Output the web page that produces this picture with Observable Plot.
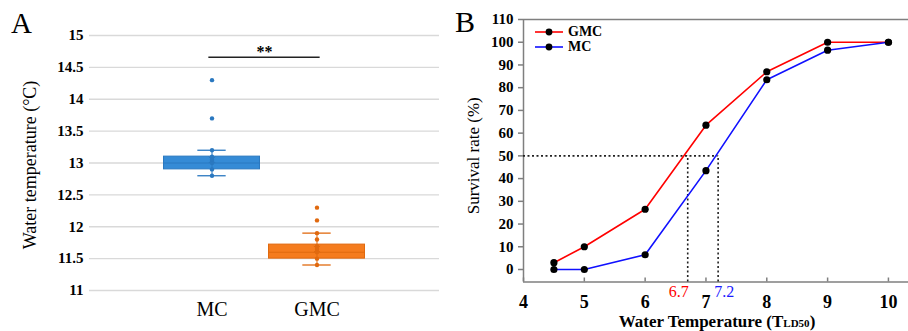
<!DOCTYPE html>
<html><head><meta charset="utf-8">
<script src="https://cdn.jsdelivr.net/npm/d3@7"></script>
<script src="https://cdn.jsdelivr.net/npm/@observablehq/plot@0.6"></script>
<style>
body{margin:0;background:#fff;}
#wrap{position:relative;width:908px;height:331px;overflow:hidden;font-family:'Liberation Serif','Times New Roman',serif;color:#000;}
#wrap svg{position:absolute;top:0;}
.abs{position:absolute;white-space:nowrap;}
</style></head><body><div id="wrap"></div>
<script>
// ---- Panel A: water temperature box plots ----
const groups = ["MC", "GMC"];
const boxLow = [12.9, 11.5];
const boxHigh = [13.1, 11.72];
const medians = [13.0, 11.6];
const whiskerLow = [12.8, 11.4];
const whiskerHigh = [13.2, 11.9];
const means = [13.05, 11.65];
const pointsMC = [12.8, 12.9, 13.0, 13.05, 13.1, 13.2, 13.7, 14.3];
const pointsGMC = [11.4, 11.5, 11.6, 11.65, 11.7, 11.8, 11.9, 12.1, 12.3];
const tempTicks = [11, 11.5, 12, 12.5, 13, 13.5, 14, 14.5, 15];
const sigLabel = "**";
const sigLevel = 14.66;

// ---- Panel B: survival curves ----
const waterTemp = [4.5, 5, 6, 7, 8, 9, 10];
const survivalGMC = [3, 10, 26.5, 63.5, 87, 100, 100];
const survivalMC = [0, 0, 6.5, 43.5, 83.5, 96.5, 100];
const tld50 = [6.7, 7.2];
const lethalLevel = 50;
const xTicksB = [4, 5, 6, 7, 8, 9, 10];
const yTicksB = [0, 10, 20, 30, 40, 50, 60, 70, 80, 90, 100, 110];

const wrap = document.getElementById("wrap");
const serif = "'Liberation Serif', 'Times New Roman', serif";

// Panel A
const fillsA = ["#358bd6", "#f57c1e"];
const edgesA = ["#2a78c0", "#e0690f"];
const tableA = groups.map((g, i) => ({
  g, pos: i + 1, lo: boxLow[i], hi: boxHigh[i], med: medians[i],
  wl: whiskerLow[i], wh: whiskerHigh[i], mean: means[i], fill: fillsA[i], edge: edgesA[i]
}));
const ptsA = [
  ...pointsMC.map(v => ({pos: 1, v, c: edgesA[0]})),
  ...pointsGMC.map(v => ({pos: 2, v, c: edgesA[1]}))
];
const half = 0.457, cap = 0.135;
const plotA = Plot.plot({
  width: 440, height: 331, marginLeft: 89, marginRight: 1, marginTop: 35, marginBottom: 41,
  x: {domain: [1 - 1.1667, 2 + 1.1667], axis: null},
  y: {domain: [11, 15], axis: null},
  style: {fontFamily: serif, background: "transparent", color: "#000"},
  marks: [
    Plot.gridY(tempTicks, {stroke: "#d9d9d9", strokeOpacity: 1, strokeWidth: 1.3}),
    Plot.axisY(tempTicks, {tickSize: 0, tickPadding: 6, fontWeight: "bold", fontSize: 15, fontFamily: serif, tickFormat: d => String(d), label: null}),
    Plot.text(["Water temperature (\u00B0C)"], {frameAnchor: "left", textAnchor: "middle", rotate: -90, dx: -59, dy: 2, fontSize: 18}),
    Plot.text(groups, {x: (d, i) => i + 1, frameAnchor: "bottom", lineAnchor: "middle", dy: 19, fontSize: 20}),
    Plot.rect(tableA, {x1: d => d.pos - half, x2: d => d.pos + half, y1: "lo", y2: "hi", fill: "fill", stroke: "edge", strokeWidth: 1}),
    Plot.ruleY(tableA, {y: "med", x1: d => d.pos - half, x2: d => d.pos + half, stroke: "edge", strokeWidth: 1}),
    Plot.ruleX(tableA, {x: "pos", y1: "wl", y2: "wh", stroke: "edge", strokeWidth: 1}),
    Plot.ruleY(tableA, {y: "wl", x1: d => d.pos - cap, x2: d => d.pos + cap, stroke: "edge", strokeWidth: 1.3}),
    Plot.ruleY(tableA, {y: "wh", x1: d => d.pos - cap, x2: d => d.pos + cap, stroke: "edge", strokeWidth: 1.3}),
    Plot.dot(ptsA, {x: "pos", y: "v", r: 2.2, fill: "c", stroke: null}),
    Plot.dot(tableA, {x: "pos", y: "mean", symbol: "times", r: 3, stroke: "edge", strokeWidth: 1}),
    Plot.ruleY([sigLevel], {x1: 0.97, x2: 2.03, stroke: "#222", strokeWidth: 1.6}),
    Plot.text([sigLabel], {x: 1.5, y: sigLevel, dy: -5, fontWeight: "bold", fontSize: 16})
  ]
});
plotA.style.left = "0px";
wrap.appendChild(plotA);

// Panel B
const tableB = [
  ...waterTemp.map((t, i) => ({t, s: survivalGMC[i], series: "GMC"})),
  ...waterTemp.map((t, i) => ({t, s: survivalMC[i], series: "MC"}))
];
const grey = "#7f7f7f";
const dash = {stroke: "#222", strokeWidth: 1.6, strokeDasharray: "2,2.5"};
const frameHB = 331 - 19 - 49.5;
const plotB = Plot.plot({
  width: 468, height: 331, marginLeft: 83, marginRight: 0, marginTop: 19, marginBottom: 49.5,
  x: {domain: [4, 10.33], axis: null},
  y: {domain: [-5.5, 110], axis: null},
  style: {fontFamily: serif, background: "transparent", color: "#000"},
  marks: [
    Plot.ruleY([110], {stroke: grey, strokeWidth: 1.5}),
    Plot.ruleY([-5.5], {stroke: grey, strokeWidth: 1.5}),
    Plot.ruleX([4], {stroke: grey, strokeWidth: 1.5}),
    Plot.axisY(yTicksB, {tickSize: 5, tickPadding: 5, stroke: grey, strokeWidth: 1.5, fill: "#000", fontWeight: "bold", fontSize: 15, fontFamily: serif, label: null}),
    Plot.tickX(xTicksB, {x: d => d, insetTop: frameHB - 4, stroke: grey, strokeWidth: 1.5}),
    Plot.axisX(xTicksB, {tickSize: 0, tickPadding: 13, fontWeight: "bold", fontSize: 18, fontFamily: serif, label: null}),
    Plot.text(["Survival rate (%)"], {frameAnchor: "left", textAnchor: "middle", rotate: -90, dx: -50, dy: 5, fontSize: 17}),
    Plot.ruleY([lethalLevel], {x1: 4, x2: tld50[1], ...dash}),
    Plot.ruleX(tld50, {x: d => d, y1: -5.5, y2: lethalLevel, ...dash}),
    Plot.line(tableB, {x: "t", y: "s", z: "series", stroke: d => d.series === "GMC" ? "#ff0000" : "#1010ff", strokeWidth: 1.6}),
    Plot.dot(tableB, {x: "t", y: "s", r: 3.6, fill: "#000", stroke: null}),
    Plot.text([tld50[0]], {x: d => d, text: d => String(d), frameAnchor: "bottom", lineAnchor: "middle", textAnchor: "end", dx: 1, dy: 10, fill: "#ff0000", fontSize: 16}),
    Plot.text([tld50[1]], {x: d => d, text: d => String(d), frameAnchor: "bottom", lineAnchor: "middle", textAnchor: "start", dx: -4, dy: 10, fill: "#1a1aff", fontSize: 16})
  ]
});
plotB.style.left = "440px";
wrap.appendChild(plotB);

// Panel letters, legend, x title (HTML overlays)
function addDiv(html, css) {
  const d = document.createElement("div");
  d.className = "abs";
  d.innerHTML = html;
  Object.assign(d.style, css);
  wrap.appendChild(d);
  return d;
}
addDiv("A", {left: "11px", top: "6px", fontSize: "29px", lineHeight: "34px"});
addDiv("B", {left: "455px", top: "5px", fontSize: "30px", lineHeight: "34px"});
addDiv('Water Temperature (T<span style="font-size:11px">LD50</span>)',
  {left: "717px", top: "312px", transform: "translateX(-50%)", fontSize: "17px", lineHeight: "20px", fontWeight: "bold"});

const legendItems = [["GMC", "#ff0000"], ["MC", "#1010ff"]];
legendItems.forEach(([name, col], i) => {
  addDiv(
    `<svg width="30" height="10" style="position:static;vertical-align:middle"><line x1="1" y1="5" x2="29" y2="5" stroke="${col}" stroke-width="1.6"/><circle cx="15" cy="5" r="3.4" fill="#000"/></svg>` +
    `<span style="font-weight:bold;font-size:14px;vertical-align:middle;margin-left:4px">${name}</span>`,
    {left: "534px", top: (24 + i * 15) + "px", lineHeight: "14px"}
  );
});
</script></body></html>
